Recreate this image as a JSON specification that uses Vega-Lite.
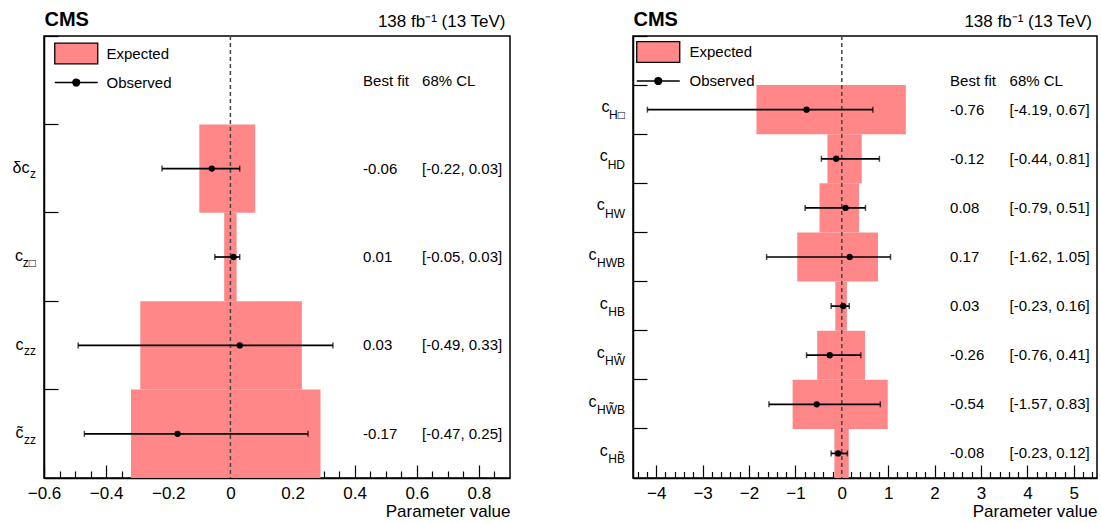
{
  "$schema": "https://vega.github.io/schema/vega-lite/v6.json",
  "padding": {"left": 11, "top": 8, "right": 5, "bottom": 5},
  "bounds": "flush",
  "spacing": 123,
  "config": {
    "font": "Liberation Sans",
    "view": {"stroke": "black", "strokeWidth": 1.5},
    "axis": {"grid": false, "domainColor": "black", "domainWidth": 1.5, "tickColor": "black", "tickWidth": 1.2, "labelColor": "black", "titleColor": "black", "labelFont": "Liberation Sans", "titleFont": "Liberation Sans", "zindex": 1},
    "axisY": {"labels": false, "ticks": true, "tickSize": -14, "bandPosition": 0, "domain": true},
    "text": {"font": "Liberation Sans", "color": "black"}
  },
  "resolve": {"scale": {"x": "independent", "y": "independent", "color": "independent"}, "legend": {"color": "independent"}},
  "hconcat": [
    {
      "width": 466,
      "height": 442,
      "data": {"values": [
        {"param": "dcz", "main": "δc", "sub": "z", "bf": "-0.06", "cl": "[-0.22, 0.03]", "best": -0.06, "lo": -0.22, "hi": 0.03, "elo": -0.10, "ehi": 0.08},
        {"param": "czbox", "main": "c", "sub": "z□", "bf": "0.01", "cl": "[-0.05, 0.03]", "best": 0.01, "lo": -0.05, "hi": 0.03, "elo": -0.02, "ehi": 0.02},
        {"param": "czz", "main": "c", "sub": "zz", "bf": "0.03", "cl": "[-0.49, 0.33]", "best": 0.03, "lo": -0.49, "hi": 0.33, "elo": -0.29, "ehi": 0.23},
        {"param": "tczz", "main": "c̃", "sub": "zz", "bf": "-0.17", "cl": "[-0.47, 0.25]", "best": -0.17, "lo": -0.47, "hi": 0.25, "elo": -0.32, "ehi": 0.29}
      ]},
      "resolve": {"axis": {"x": "independent"}},
      "layer": [
        {
          "mark": {"type": "bar", "opacity": 1},
          "encoding": {
            "x": {"field": "elo", "type": "quantitative", "scale": {"domain": [-0.6, 0.9], "nice": false, "zero": false},
              "axis": {"orient": "bottom", "values": [-0.6, -0.4, -0.2, 0, 0.2, 0.4, 0.6, 0.8], "format": "~g", "tickSize": -13, "labelFontSize": 17, "labelPadding": 20, "labelFlush": false, "labelOverlap": false, "title": "Parameter value", "titleAnchor": "end", "titleFontSize": 17, "titleFontWeight": "normal", "titlePadding": 2}},
            "x2": {"field": "ehi"},
            "y": {"field": "param", "type": "nominal", "title": null, "scale": {"domain": ["hdr", "dcz", "czbox", "czz", "tczz"], "paddingInner": 0, "paddingOuter": 0}},
            "color": {"datum": "Expected", "scale": {"domain": ["Expected", "Observed"], "range": ["#ff8787", "black"]},
              "legend": {"title": null, "orient": "none", "legendX": 20.75, "legendY": 6, "padding": 0, "labelFontSize": 15, "labelOffset": 18.75, "labelColor": "black", "symbolSize": 462, "rowPadding": 4,
                "symbolType": {"expr": "datum.value === 'Expected' ? 'M-2,-0.96H2V0.96H-2Z' : 'M-2,0H2M-0.32,0A0.32,0.32 0 1,0 0.32,0A0.32,0.32 0 1,0 -0.32,0'"},
                "symbolStrokeColor": "black", "symbolStrokeWidth": 1.3, "symbolOpacity": 1}}
          }
        },
        {
          "data": {"values": [{}]},
          "mark": {"type": "rule", "strokeDash": [4, 3], "color": "#444444", "strokeWidth": 1.5},
          "encoding": {
            "x": {"datum": 0, "type": "quantitative",
              "axis": {"orient": "bottom", "values": [-0.55, -0.5, -0.45, -0.35, -0.3, -0.25, -0.15, -0.1, -0.05, 0.05, 0.1, 0.15, 0.25, 0.3, 0.35, 0.45, 0.5, 0.55, 0.65, 0.7, 0.75, 0.85], "labels": false, "tickSize": -7, "domain": false, "title": null}}
          }
        },
        {
          "mark": {"type": "rule", "color": "black", "strokeWidth": 1.7},
          "encoding": {
            "x": {"field": "lo", "type": "quantitative",
              "axis": {"orient": "top", "ticks": false, "labels": false, "domain": false, "title": "138 fb⁻¹ (13 TeV)", "titleAnchor": "end", "titleAlign": "right", "titleX": 461, "titleFontSize": 17, "titleFontWeight": "normal", "titleBaseline": "alphabetic", "titlePadding": 9.5}},
            "x2": {"field": "hi"},
            "y": {"field": "param", "type": "nominal", "title": null}
          }
        },
        {
          "transform": [{"fold": ["lo", "hi"], "as": ["end", "xv"]}],
          "mark": {"type": "tick", "color": "black", "thickness": 1.5, "size": 6},
          "encoding": {
            "x": {"field": "xv", "type": "quantitative", "axis": null},
            "y": {"field": "param", "type": "nominal", "title": null}
          }
        },
        {
          "mark": {"type": "point", "filled": true, "size": 40, "opacity": 1},
          "encoding": {
            "x": {"field": "best", "type": "quantitative",
              "axis": {"orient": "top", "ticks": false, "labels": false, "domain": false, "title": "CMS", "titleAnchor": "start", "titleAlign": "left", "titleFontSize": 20, "titleFontWeight": "bold", "titleBaseline": "alphabetic", "titlePadding": 11}},
            "y": {"field": "param", "type": "nominal", "title": null},
            "color": {"datum": "Observed"}
          }
        },
        {
          "mark": {"type": "text", "align": "left", "baseline": "middle", "fontSize": 15},
          "encoding": {
            "x": {"datum": 0.427, "type": "quantitative", "axis": null},
            "y": {"field": "param", "type": "nominal", "title": null},
            "text": {"field": "bf"}
          }
        },
        {
          "mark": {"type": "text", "align": "left", "baseline": "middle", "fontSize": 15},
          "encoding": {
            "x": {"datum": 0.617, "type": "quantitative", "axis": null},
            "y": {"field": "param", "type": "nominal", "title": null},
            "text": {"field": "cl"}
          }
        },
        {
          "data": {"values": [{"t": "Best fit"}]},
          "mark": {"type": "text", "align": "left", "baseline": "middle", "fontSize": 15, "dy": 1},
          "encoding": {
            "x": {"datum": 0.427, "type": "quantitative", "axis": null},
            "y": {"datum": "hdr", "type": "nominal", "title": null},
            "text": {"field": "t"}
          }
        },
        {
          "data": {"values": [{"t": "68% CL"}]},
          "mark": {"type": "text", "align": "left", "baseline": "middle", "fontSize": 15, "dy": 1},
          "encoding": {
            "x": {"datum": 0.617, "type": "quantitative", "axis": null},
            "y": {"datum": "hdr", "type": "nominal", "title": null},
            "text": {"field": "t"}
          }
        },
        {
          "mark": {"type": "text", "align": "right", "baseline": "alphabetic", "fontSize": 16, "dy": 4.2,
            "dx": {"expr": "-8.5 - 8.4*length(replace(datum.sub, regexp('[^A-VX-Z]','g'), '')) - 11.3*length(replace(datum.sub, regexp('[^W]','g'), '')) - 6*length(replace(datum.sub, regexp('[^a-z]','g'), '')) - 6.5*length(replace(datum.sub, regexp('[^□]','g'), ''))"}},
          "encoding": {
            "x": {"datum": -0.6, "type": "quantitative", "axis": null},
            "y": {"field": "param", "type": "nominal", "title": null},
            "text": {"field": "main"}
          }
        },
        {
          "mark": {"type": "text", "align": "right", "baseline": "alphabetic", "fontSize": 12, "dy": 9.7, "dx": -8},
          "encoding": {
            "x": {"datum": -0.6, "type": "quantitative", "axis": null},
            "y": {"field": "param", "type": "nominal", "title": null},
            "text": {"field": "sub"}
          }
        }
      ]
    },
    {
      "width": 464,
      "height": 442,
      "data": {"values": [
        {"param": "cHbox", "main": "c", "sub": "H□", "bf": "-0.76", "cl": "[-4.19, 0.67]", "best": -0.76, "lo": -4.19, "hi": 0.67, "elo": -1.84, "ehi": 1.38},
        {"param": "cHD", "main": "c", "sub": "HD", "bf": "-0.12", "cl": "[-0.44, 0.81]", "best": -0.12, "lo": -0.44, "hi": 0.81, "elo": -0.31, "ehi": 0.43},
        {"param": "cHW", "main": "c", "sub": "HW", "bf": "0.08", "cl": "[-0.79, 0.51]", "best": 0.08, "lo": -0.79, "hi": 0.51, "elo": -0.48, "ehi": 0.37},
        {"param": "cHWB", "main": "c", "sub": "HWB", "bf": "0.17", "cl": "[-1.62, 1.05]", "best": 0.17, "lo": -1.62, "hi": 1.05, "elo": -0.96, "ehi": 0.78},
        {"param": "cHB", "main": "c", "sub": "HB", "bf": "0.03", "cl": "[-0.23, 0.16]", "best": 0.03, "lo": -0.23, "hi": 0.16, "elo": -0.14, "ehi": 0.11},
        {"param": "cHWt", "main": "c", "sub": "HW̃", "bf": "-0.26", "cl": "[-0.76, 0.41]", "best": -0.26, "lo": -0.76, "hi": 0.41, "elo": -0.53, "ehi": 0.50},
        {"param": "cHWtB", "main": "c", "sub": "HW̃B", "bf": "-0.54", "cl": "[-1.57, 0.83]", "best": -0.54, "lo": -1.57, "hi": 0.83, "elo": -1.06, "ehi": 0.99},
        {"param": "cHBt", "main": "c", "sub": "HB̃", "bf": "-0.08", "cl": "[-0.23, 0.12]", "best": -0.08, "lo": -0.23, "hi": 0.12, "elo": -0.16, "ehi": 0.15}
      ]},
      "resolve": {"axis": {"x": "independent"}},
      "layer": [
        {
          "mark": {"type": "bar", "opacity": 1},
          "encoding": {
            "x": {"field": "elo", "type": "quantitative", "scale": {"domain": [-4.5, 5.5], "nice": false, "zero": false},
              "axis": {"orient": "bottom", "values": [-4, -3, -2, -1, 0, 1, 2, 3, 4, 5], "format": "~g", "tickSize": -13, "labelFontSize": 17, "labelPadding": 20, "labelFlush": false, "labelOverlap": false, "title": "Parameter value", "titleAnchor": "end", "titleFontSize": 17, "titleFontWeight": "normal", "titlePadding": 2}},
            "x2": {"field": "ehi"},
            "y": {"field": "param", "type": "nominal", "title": null, "scale": {"domain": ["hdr", "cHbox", "cHD", "cHW", "cHWB", "cHB", "cHWt", "cHWtB", "cHBt"], "paddingInner": 0, "paddingOuter": 0}},
            "color": {"datum": "Expected", "scale": {"domain": ["Expected", "Observed"], "range": ["#ff8787", "black"]},
              "legend": {"title": null, "orient": "none", "legendX": 13.75, "legendY": 4.5, "padding": 0, "labelFontSize": 15, "labelOffset": 19.75, "labelColor": "black", "symbolSize": 462, "rowPadding": 4,
                "symbolType": {"expr": "datum.value === 'Expected' ? 'M-2,-0.96H2V0.96H-2Z' : 'M-2,0H2M-0.32,0A0.32,0.32 0 1,0 0.32,0A0.32,0.32 0 1,0 -0.32,0'"},
                "symbolStrokeColor": "black", "symbolStrokeWidth": 1.3, "symbolOpacity": 1}}
          }
        },
        {
          "data": {"values": [{}]},
          "mark": {"type": "rule", "strokeDash": [4, 3], "color": "#444444", "strokeWidth": 1.5},
          "encoding": {
            "x": {"datum": 0, "type": "quantitative",
              "axis": {"orient": "bottom", "values": [-4.4, -4.2, -3.8, -3.6, -3.4, -3.2, -2.8, -2.6, -2.4, -2.2, -1.8, -1.6, -1.4, -1.2, -0.8, -0.6, -0.4, -0.2, 0.2, 0.4, 0.6, 0.8, 1.2, 1.4, 1.6, 1.8, 2.2, 2.4, 2.6, 2.8, 3.2, 3.4, 3.6, 3.8, 4.2, 4.4, 4.6, 4.8, 5.2, 5.4], "labels": false, "tickSize": -6.5, "domain": false, "title": null}}
          }
        },
        {
          "mark": {"type": "rule", "color": "black", "strokeWidth": 1.7},
          "encoding": {
            "x": {"field": "lo", "type": "quantitative",
              "axis": {"orient": "top", "ticks": false, "labels": false, "domain": false, "title": "138 fb⁻¹ (13 TeV)", "titleAnchor": "end", "titleAlign": "right", "titleX": 458.5, "titleFontSize": 17, "titleFontWeight": "normal", "titleBaseline": "alphabetic", "titlePadding": 9.5}},
            "x2": {"field": "hi"},
            "y": {"field": "param", "type": "nominal", "title": null}
          }
        },
        {
          "transform": [{"fold": ["lo", "hi"], "as": ["end", "xv"]}],
          "mark": {"type": "tick", "color": "black", "thickness": 1.5, "size": 6},
          "encoding": {
            "x": {"field": "xv", "type": "quantitative", "axis": null},
            "y": {"field": "param", "type": "nominal", "title": null}
          }
        },
        {
          "mark": {"type": "point", "filled": true, "size": 40, "opacity": 1},
          "encoding": {
            "x": {"field": "best", "type": "quantitative",
              "axis": {"orient": "top", "ticks": false, "labels": false, "domain": false, "title": "CMS", "titleAnchor": "start", "titleAlign": "left", "titleFontSize": 20, "titleFontWeight": "bold", "titleBaseline": "alphabetic", "titlePadding": 11}},
            "y": {"field": "param", "type": "nominal", "title": null},
            "color": {"datum": "Observed"}
          }
        },
        {
          "mark": {"type": "text", "align": "left", "baseline": "middle", "fontSize": 15},
          "encoding": {
            "x": {"datum": 2.334, "type": "quantitative", "axis": null},
            "y": {"field": "param", "type": "nominal", "title": null},
            "text": {"field": "bf"}
          }
        },
        {
          "mark": {"type": "text", "align": "left", "baseline": "middle", "fontSize": 15},
          "encoding": {
            "x": {"datum": 3.616, "type": "quantitative", "axis": null},
            "y": {"field": "param", "type": "nominal", "title": null},
            "text": {"field": "cl"}
          }
        },
        {
          "data": {"values": [{"t": "Best fit"}]},
          "mark": {"type": "text", "align": "left", "baseline": "middle", "fontSize": 15, "dy": 20.5},
          "encoding": {
            "x": {"datum": 2.334, "type": "quantitative", "axis": null},
            "y": {"datum": "hdr", "type": "nominal", "title": null},
            "text": {"field": "t"}
          }
        },
        {
          "data": {"values": [{"t": "68% CL"}]},
          "mark": {"type": "text", "align": "left", "baseline": "middle", "fontSize": 15, "dy": 20.5},
          "encoding": {
            "x": {"datum": 3.616, "type": "quantitative", "axis": null},
            "y": {"datum": "hdr", "type": "nominal", "title": null},
            "text": {"field": "t"}
          }
        },
        {
          "mark": {"type": "text", "align": "right", "baseline": "alphabetic", "fontSize": 16, "dy": 2.5,
            "dx": {"expr": "-8.5 - 8.4*length(replace(datum.sub, regexp('[^A-VX-Z]','g'), '')) - 11.3*length(replace(datum.sub, regexp('[^W]','g'), '')) - 6*length(replace(datum.sub, regexp('[^a-z]','g'), '')) - 6.5*length(replace(datum.sub, regexp('[^□]','g'), ''))"}},
          "encoding": {
            "x": {"datum": -4.5, "type": "quantitative", "axis": null},
            "y": {"field": "param", "type": "nominal", "title": null},
            "text": {"field": "main"}
          }
        },
        {
          "mark": {"type": "text", "align": "right", "baseline": "alphabetic", "fontSize": 12, "dy": 9.8, "dx": -8},
          "encoding": {
            "x": {"datum": -4.5, "type": "quantitative", "axis": null},
            "y": {"field": "param", "type": "nominal", "title": null},
            "text": {"field": "sub"}
          }
        }
      ]
    }
  ]
}
